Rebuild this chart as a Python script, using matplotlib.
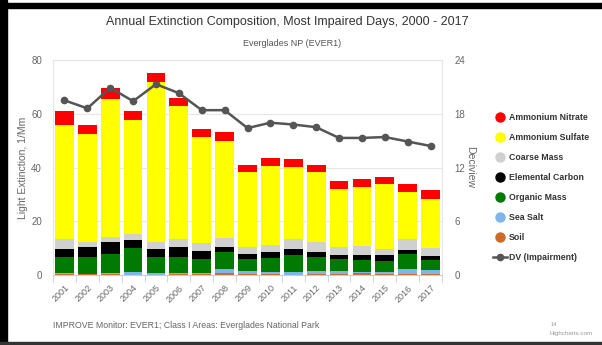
import matplotlib
matplotlib.use("Agg")
import matplotlib.pyplot as plt
import numpy as np
from matplotlib.lines import Line2D
from matplotlib.patches import Rectangle

years = ["2001", "2002", "2003", "2004", "2005", "2006", "2007", "2008", "2009",
         "2010", "2011", "2012", "2013", "2014", "2015", "2016", "2017"]
soil = [0.3, 0.2, 0.5, 0.1, 0.1, 0.2, 0.2, 0.9, 0.2, 0.2, 0.1, 0.5, 0.2, 0.6, 0.2, 0.2, 0.2]
sea_salt = [0.3, 0.3, 0.2, 0.9, 0.8, 0.5, 0.6, 1.4, 1.3, 1.1, 1.0, 1.0, 1.4, 0.4, 0.8, 2.1, 1.8]
organic_mass = [6.0, 6.3, 7.1, 9.2, 5.7, 6.1, 5.3, 6.4, 4.3, 5.1, 6.3, 5.3, 4.4, 4.6, 4.3, 5.5, 3.6]
elemental_carbon = [3.0, 3.5, 4.4, 2.8, 3.0, 3.7, 2.8, 1.8, 1.9, 2.3, 2.2, 1.9, 1.6, 2.0, 2.0, 1.5, 1.6]
coarse_mass = [3.7, 2.1, 2.1, 2.3, 2.8, 2.8, 3.1, 3.4, 2.8, 2.6, 3.9, 3.7, 2.9, 3.2, 2.3, 4.0, 2.8]
ammonium_sulfate = [42.4, 39.9, 51.2, 42.2, 59.3, 49.6, 39.2, 36.0, 27.7, 29.1, 26.8, 25.8, 21.5, 22.1, 24.1, 17.7, 18.2]
ammonium_nitrate = [5.3, 3.4, 4.1, 3.5, 3.6, 3.1, 3.2, 3.3, 2.9, 3.1, 2.9, 2.9, 3.1, 2.9, 2.9, 2.9, 3.3]
dv = [19.5, 18.6, 20.9, 19.4, 21.3, 20.3, 18.4, 18.4, 16.4, 17.0, 16.8, 16.5, 15.3, 15.3, 15.4, 14.9, 14.4]

series = [
    ("Soil", soil, "#CC6A2A"),
    ("Sea Salt", sea_salt, "#7EB6EA"),
    ("Organic Mass", organic_mass, "#007A00"),
    ("Elemental Carbon", elemental_carbon, "#000000"),
    ("Coarse Mass", coarse_mass, "#D0D0D0"),
    ("Ammonium Sulfate", ammonium_sulfate, "#FFFF00"),
    ("Ammonium Nitrate", ammonium_nitrate, "#FF0000"),
]

plt.rcParams['font.family'] = ['Liberation Sans', 'DejaVu Sans']

W, H = 602, 345
fig = plt.figure(figsize=(W / 100, H / 100), dpi=100)
fig.patch.set_facecolor("white")

def fx(px):
    return px / W

def fy(py):
    return 1 - py / H

ax = fig.add_axes([fx(53), fy(275), fx(442) - fx(53), fy(60) - fy(275)])
x = np.arange(len(years))
bottom = np.zeros(len(years))
for name, vals, col in series:
    ax.bar(x, vals, width=0.82, bottom=bottom, color=col, edgecolor="none", zorder=2)
    bottom += np.array(vals)

ax.set_xlim(-0.5, len(years) - 0.5)
ax.set_ylim(0, 80)
ax.set_yticks([0, 20, 40, 60, 80])
ax.grid(axis="y", color="#E6E6E6", linewidth=0.8, zorder=0)
ax.set_axisbelow(True)
for side in ["top", "right", "left"]:
    ax.spines[side].set_color("#E6E6E6")
    ax.spines[side].set_linewidth(0.8)
ax.spines["bottom"].set_color("#C0D0E0")
ax.tick_params(axis="y", length=0, labelsize=7, labelcolor="#666666", pad=8)
ax.set_xticks(x)
ax.set_xticklabels(years, rotation=45, ha="right", rotation_mode="anchor",
                   fontsize=6.5, color="#666666")
ax.set_xticks(np.arange(-0.5, len(years)), minor=True)
ax.tick_params(axis="x", which="major", length=0, pad=6)
ax.tick_params(axis="x", which="minor", length=5, color="#C0D0E0")
ax.set_ylabel("Light Extinction, 1/Mm", fontsize=7.5, color="#666666", labelpad=2)

ax2 = ax.twinx()
ax2.plot(x, dv, color="#555555", linewidth=1.8, marker="o", markersize=4.5, zorder=5)
ax2.set_ylim(0, 24)
ax2.set_yticks([0, 6, 12, 18, 24])
ax2.tick_params(axis="y", length=0, labelsize=7, labelcolor="#666666", pad=9)
for side in ["top", "right", "left", "bottom"]:
    ax2.spines[side].set_visible(False)
fig.text(fx(470), fy(167), "Deciview", fontsize=7.5, color="#666666", rotation=270,
         ha="center", va="center")

fig.text(fx(287), fy(22), "Annual Extinction Composition, Most Impaired Days, 2000 - 2017",
         ha="center", va="center", fontsize=9, color="#333333")
fig.text(fx(292), fy(44), "Everglades NP (EVER1)", ha="center", va="center",
         fontsize=6.5, color="#555555")
fig.text(fx(53), fy(326), "IMPROVE Monitor: EVER1; Class I Areas: Everglades National Park",
         ha="left", va="center", fontsize=6.3, color="#666666")
fig.text(fx(551), fy(324), "14", ha="left", va="center", fontsize=4, color="#999999")
fig.text(fx(550), fy(333), "Highcharts.com", ha="left", va="center", fontsize=4.5, color="#999999")

# legend
leg_items = [(name, col) for name, vals, col in series][::-1]
y0 = 117
for i, (name, col) in enumerate(leg_items):
    yy = y0 + 20 * i
    fig.add_artist(Line2D([fx(500)], [fy(yy)], marker="o", markersize=6.5, color=col,
                          linestyle="none", transform=fig.transFigure))
    fig.text(fx(509), fy(yy), name, ha="left", va="center", fontsize=6.3,
             fontweight="bold", color="#333333")
yy = y0 + 20 * len(leg_items)
fig.add_artist(Line2D([fx(493), fx(507)], [fy(yy), fy(yy)], color="#555555", linewidth=1.8,
                      transform=fig.transFigure))
fig.add_artist(Line2D([fx(500)], [fy(yy)], marker="o", markersize=4.5, color="#555555",
                      linestyle="none", transform=fig.transFigure))
fig.text(fx(509), fy(yy), "DV (Impairment)", ha="left", va="center", fontsize=6.3,
         fontweight="bold", color="#333333")

# black frame borders of the screenshot
fig.add_artist(Rectangle((0, fy(8)), 1, fy(3) - fy(8), color="black", transform=fig.transFigure))
fig.add_artist(Rectangle((0, 0), fx(7), 1, color="black", transform=fig.transFigure))
fig.add_artist(Rectangle((0, 0), 1, fy(342), color="#333333", transform=fig.transFigure))

fig.savefig("out.png", dpi=100)
